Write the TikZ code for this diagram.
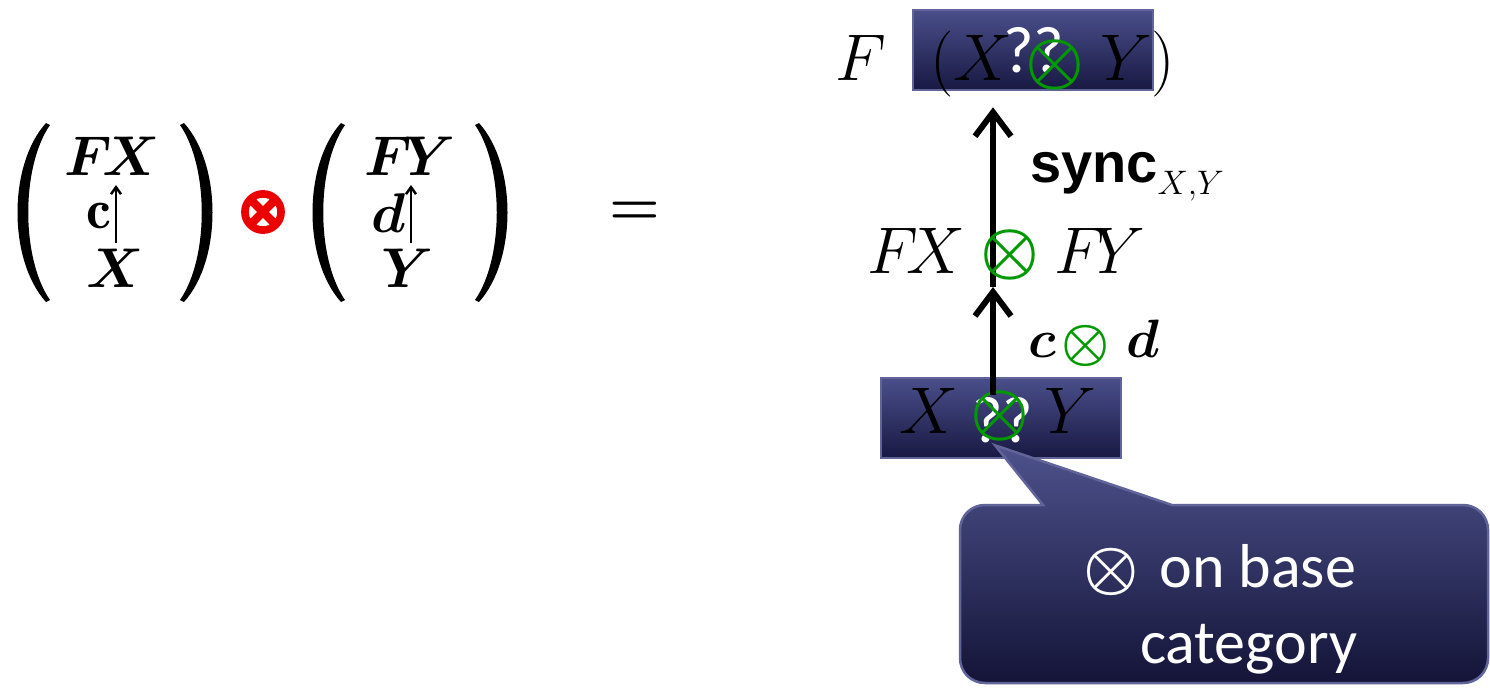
\documentclass[tikz,border=0pt]{standalone}
\usepackage{fix-cm}
\usepackage{amsmath,bm}
\usepackage{fontspec}
\newfontfamily\calfont{Carlito}
\newfontfamily\arialfont{Liberation Sans}
\newfontfamily\heavyfont[FakeBold=5]{DejaVu Sans}
\usetikzlibrary{arrows.meta,calc}
\newcommand\setfs[1]{\fontsize{#1}{#1}\selectfont}
\definecolor{boxtop}{RGB}{74,79,138}
\definecolor{boxbot}{RGB}{24,24,66}
\definecolor{boxedge}{RGB}{96,100,152}
\definecolor{calltop}{RGB}{78,82,140}
\definecolor{callbot}{RGB}{20,20,56}
\definecolor{sgreen}{RGB}{0,153,0}
\definecolor{symred}{RGB}{235,0,0}
\tikzset{
  txt/.style={inner sep=0pt, outer sep=0pt, anchor=base west},
  sym/.style={inner sep=0pt, outer sep=0pt, anchor=center},
  basebox/.style={draw=boxedge, line width=2.5pt, top color=boxtop, bottom color=boxbot,
    minimum width=240pt, minimum height=80pt, inner sep=0pt},
  callshape/.style={draw=boxedge, line width=2.5pt, top color=calltop, bottom color=callbot},
  bigarrow/.style={line width=6pt, -{Straight Barb[length=24pt,width=36pt]}},
  smallarrow/.style={line width=2.5pt, -{Straight Barb[length=7pt,width=10pt]}},
  lparen/.pic={\fill (15,123) .. controls (-23,165) and (-23,260) .. (15,302)
     -- (19,300) .. controls (-10,258) and (-10,167) .. (19,125) -- cycle;}
}
\begin{document}
\begin{tikzpicture}[x=1pt,y=-1pt]
\useasboundingbox (0,0) rectangle (1490,689);

% ---------- left: (FX <-c- X) (x) (FY <-d- Y) =
\pic at (31,0) {lparen};
\pic[xscale=-1] at (199,0) {lparen};
\pic at (326,0) {lparen};
\pic[xscale=-1] at (494,0) {lparen};

\node[txt, anchor=base] (fx) at (112,175) {\setfs{56}$\bm{F\!X}$};
\node[txt, anchor=base east] (cl) at (111,228) {\setfs{56}$\mathbf{c}$};
\node[txt, anchor=base] (xl) at (115,287) {\setfs{56}$\bm{X}$};
\coordinate (ca) at (116,243);
\coordinate (cb) at (116,185);
\draw[smallarrow] (ca) -- (cb);

\node[sym] (redot) at (263,212) {\heavyfont\setfs{62}\textcolor{symred}{⊗}};

\node[txt, anchor=base] (fy) at (410,175) {\setfs{56}$\bm{F\!Y}$};
\node[txt, anchor=base east] (dl) at (406,232) {\setfs{56}$\bm{d}$};
\node[txt, anchor=base] (yl) at (408,287) {\setfs{56}$\bm{Y}$};
\coordinate (da) at (411,243);
\coordinate (db) at (411,185);
\draw[smallarrow] (da) -- (db);

\node[sym] (eq) at (635,213) {\setfs{58}$\bm{=}$};

% ---------- right: boxes
\node[basebox] (fxy) at (1033,50) {};
\node[basebox] (xy) at (1001,418) {};

% top row  F (X ?? Y)
\node[txt] (Ft) at (835,80) {\setfs{66}$F$};
\node[txt] (lxt) at (930,80) {\setfs{66}$(X$};
\node[txt, text=white] (q1) at (1003,72) {\calfont\setfs{66}??};
\node[sym, text=sgreen] (o1) at (1055,65) {\setfs{66}$\boldsymbol{\otimes}$};
\node[txt] (ryt) at (1100,80) {\setfs{66}$Y)$};

% bottom row  X ?? Y
\node[txt] (xb) at (899,433) {\setfs{66}$X$};
\node[txt, text=white] (q2) at (972,442) {\calfont\setfs{66}??};
\node[sym, text=sgreen] (o2) at (1000,416) {\setfs{66}$\boldsymbol{\otimes}$};
\node[txt] (yb) at (1044,433) {\setfs{66}$Y$};

% arrows
\coordinate (lowstart) at (993,395);
\coordinate (midpt) at (993,287);
\draw[bigarrow] (lowstart) -- (midpt);
\draw[bigarrow, shorten >=16pt] (midpt) -- (fxy.south -| midpt);

% FX (x) FY
\node[txt] (fxm) at (867,273) {\setfs{66}$F\!X$};
\node[sym, text=sgreen] (o3) at (1010,255) {\setfs{66}$\boldsymbol{\otimes}$};
\node[txt] (fym) at (1054,273) {\setfs{66}$F\!Y$};

% c (x) d
\node[txt] (cm) at (1028,357) {\setfs{54}$\bm{c}$};
\node[sym, text=sgreen] (o4) at (1086,346) {\setfs{54}$\boldsymbol{\otimes}$};
\node[txt] (dm) at (1126,357) {\setfs{54}$\bm{d}$};

% sync_{X,Y}
\node[txt] (sync) at (1030,182) {\arialfont\bfseries\setfs{56}sync\raisebox{-12pt}{\setfs{34}\mdseries$X{,}Y$}};

% callout
\coordinate (tip) at ($(xy.south)+(-6,-14)$);
\path[callshape] (985,505) -- (1043,505) -- (tip) -- (1172,505) -- (1463,505)
  .. controls (1477,505) and (1488,516) .. (1488,530) -- (1488,658)
  .. controls (1488,672) and (1477,683) .. (1463,683) -- (985,683)
  .. controls (971,683) and (960,672) .. (960,658) -- (960,530)
  .. controls (960,516) and (971,505) .. (985,505) -- cycle;
\node[txt, text=white] (note1) at (1083,587) {\calfont\setfs{62}$\boldsymbol{\otimes}$\hspace{21pt}on base};
\node[txt, text=white] (note2) at (1140,663) {\calfont\setfs{62}category};
\end{tikzpicture}
\end{document}
